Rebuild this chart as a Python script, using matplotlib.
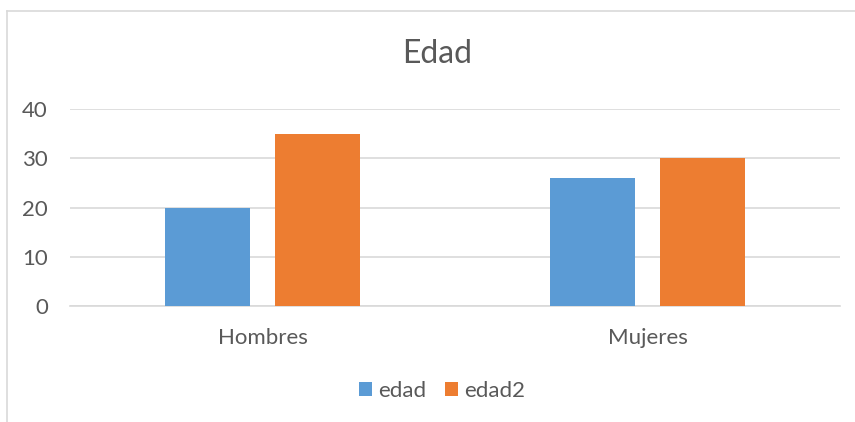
import matplotlib
matplotlib.use("Agg")
import matplotlib.pyplot as plt
import numpy as np
from matplotlib.lines import Line2D

categories = ["Hombres", "Mujeres"]
edad = [20, 26]
edad2 = [35, 30]
yticks = [0, 10, 20, 30, 40]

W, H = 855, 422
plt.rcParams['font.family'] = ['Lato', 'DejaVu Sans']
fig = plt.figure(figsize=(W/100, H/100), dpi=100)
fig.patch.set_facecolor('white')

# chart border (left and top visible)
fig.add_artist(Line2D([6.5/W, 6.5/W], [0, 1-10.5/H], transform=fig.transFigure, color='#D9D9D9', lw=1.2))
fig.add_artist(Line2D([6.5/W, 1], [1-10.5/H, 1-10.5/H], transform=fig.transFigure, color='#D9D9D9', lw=1.2))

ax = fig.add_axes([70/W, 1-306/H, 770/W, (306-109)/H])
x = np.arange(len(categories))
bw = 0.223
off = 0.143
ax.bar(x - off, edad, bw, color='#5B9BD5', label='edad', zorder=3)
ax.bar(x + off, edad2, bw, color='#ED7D31', label='edad2', zorder=3)
ax.set_xlim(-0.5, 1.5)
ax.set_ylim(0, 40)
ax.set_yticks(yticks)
ax.yaxis.grid(True, color='#D9D9D9', lw=1.2, zorder=0)
for s in ['top', 'right', 'left']:
    ax.spines[s].set_visible(False)
ax.spines['bottom'].set_color('#D9D9D9')
ax.spines['bottom'].set_linewidth(1.2)
ax.set_xticks(x)
ax.set_xticklabels(categories)
ax.tick_params(axis='both', length=0, labelsize=16, colors='#595959')
ax.tick_params(axis='y', pad=16)
ax.tick_params(axis='x', pad=16)

fig.text(437/W, 1-54/H, "Edad", ha='center', va='center', fontsize=23, color='#595959')

leg = fig.legend(loc='center', bbox_to_anchor=(442/W, 1-391/H), ncol=2, frameon=False,
                 fontsize=16, handlelength=0.585, handleheight=0.585, handletextpad=0.27,
                 columnspacing=0.85, labelcolor='#595959', borderpad=0, borderaxespad=0)

fig.savefig("out.png", dpi=100, facecolor='white')
